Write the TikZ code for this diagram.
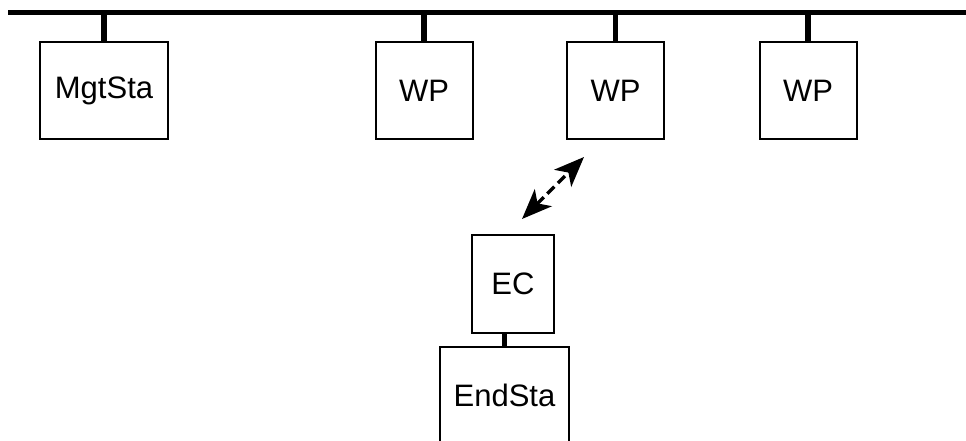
\documentclass[tikz,border=0pt]{standalone}
\usepackage{fontspec}
\setmainfont{Liberation Sans}
\usetikzlibrary{arrows.meta}
\tikzset{
  station/.style={draw, line width=2pt, minimum height=97pt, inner sep=0pt,
    font=\fontsize{31}{36}\selectfont},
  tap/.style={line width=5.5pt},
  link/.style={line width=3.5pt, dash pattern=on 10pt off 5pt,
    {Stealth[length=30pt,width=24pt,inset=8pt]}-{Stealth[length=30pt,width=24pt,inset=8pt]}}
}
\begin{document}
\begin{tikzpicture}[x=1pt,y=-1pt]
      \useasboundingbox (0,0) rectangle (966,441);
      \draw[line width=5pt] (8,12.5) coordinate (busL) -- (966,12.5) coordinate (busR);
      \draw
        (104,91) node[station, minimum width=128pt] (mgt){MgtSta}
        (424,91) node[station, minimum width=97pt] (wp1){WP}
        (615.5,91) node[station, minimum width=97pt] (wp2){WP}
        (808,91) node[station, minimum width=97pt] (wp3){WP}
        (513,284) node[station, minimum width=82pt, minimum height=98pt] (ec){EC}
        (504.5,395) node[station, minimum width=129pt, minimum height=96pt] (endsta){EndSta};
      \coordinate (far) at (522,219);
      \coordinate (near) at (584,157);
      \begin{scope}[tap]
        \draw (mgt.north) -- (mgt.north |- busL);
        \draw (wp1.north) -- (wp1.north |- busL);
        \draw (wp2.north) -- (wp2.north |- busL);
        \draw (wp3.north) -- (wp3.north |- busL);
        \draw[line width=4.5pt] (endsta.north) -- (endsta.north |- ec.south);
      \end{scope}
      \draw[link] (far) -- (near);
    \end{tikzpicture}
\end{document}
